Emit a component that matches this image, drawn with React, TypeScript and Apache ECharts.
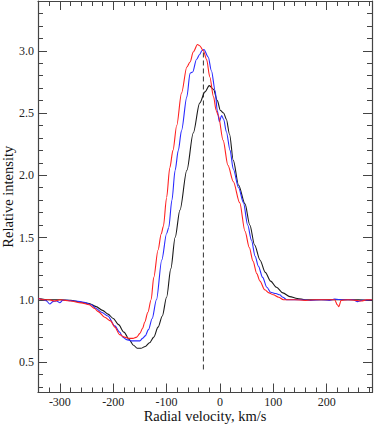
import React, { useEffect, useRef } from "react";
import * as echarts from "echarts";

const blackV = [-340,-320,-300,-280,-260,-245,-232,-220,-210,-200,-190,-180,-170,-162,-155,-148,-140,-132,-124,-116,-108,-100,-92,-84,-75,-62,-50,-38,-28,-20,-12,-5,1,7,12,18,25,35,47,56,65,75,85,95,106,118,131,145,160,180,220,260,285];
const blackI = [1.01,1.0,1.0,0.995,0.98,0.97,0.945,0.915,0.885,0.85,0.80,0.74,0.68,0.635,0.61,0.61,0.625,0.655,0.70,0.78,0.87,1.02,1.25,1.5,1.72,2.04,2.34,2.58,2.67,2.72,2.69,2.60,2.52,2.50,2.45,2.33,2.12,1.92,1.77,1.60,1.44,1.32,1.22,1.15,1.10,1.055,1.025,1.01,1.0,1.0,1.0,1.0,0.995];

const redV = [-340,-330,-320,-310,-300,-290,-280,-260,-245,-235,-228,-216,-205,-197,-188,-179,-170,-163,-156,-150,-145,-141,-135,-129,-124,-116,-110,-106,-100,-94,-88,-81,-72,-62,-56,-50,-42,-38,-31,-25,-19,-12,-7,-3,6,15,25,37,47,55,62,69,75,84,92,100,110,119,140,160,180,200,215,220,223,227,240,255,265,275,285];
const redI = [1.01,1.0,1.0,0.99,1.0,0.995,0.99,0.975,0.96,0.93,0.905,0.86,0.83,0.78,0.72,0.70,0.69,0.69,0.70,0.73,0.77,0.82,0.90,1.0,1.18,1.40,1.53,1.59,1.82,2.06,2.2,2.4,2.66,2.87,2.91,2.99,3.05,3.04,3.0,2.93,2.79,2.63,2.52,2.48,2.28,2.08,1.95,1.78,1.55,1.42,1.31,1.21,1.15,1.08,1.055,1.04,1.02,1.0,1.0,0.995,1.0,1.0,1.0,0.96,0.945,0.995,1.0,0.995,0.99,1.0,1.0];

const blueV = [-340,-330,-325,-319,-313,-306,-300,-295,-285,-270,-255,-241,-232,-222,-210,-197,-188,-182,-175,-166,-158,-150,-145,-140,-134,-127,-119,-109,-100,-96,-90,-84,-78,-72,-62,-56,-51,-44,-38,-34,-30,-22,-16,-9,-5,-1,3,7,12,19,25,35,44,52,59,66,72,80,88,95,105,112,118,125,150,170,190,205,215,230,250,258,265,285];
const blueI = [1.01,1.0,0.99,0.966,0.985,0.99,0.976,0.995,0.995,0.99,0.98,0.96,0.93,0.90,0.87,0.79,0.74,0.70,0.68,0.67,0.67,0.67,0.69,0.71,0.76,0.85,1.0,1.32,1.53,1.58,1.8,2.04,2.2,2.36,2.63,2.82,2.83,2.93,2.97,3.0,3.01,2.95,2.84,2.68,2.52,2.43,2.48,2.45,2.35,2.2,2.05,1.9,1.78,1.6,1.48,1.35,1.27,1.18,1.1,1.06,1.05,1.04,1.02,1.0,1.0,0.995,1.0,0.995,1.005,1.0,1.0,0.985,0.995,1.0];

const markerV = [-31, -31];
const markerI = [0.44, 3.0];

const xMajor = [-300, -200, -100, 0, 100, 200];
const xMinor = [-340,-320,-300,-280,-260,-240,-220,-200,-180,-160,-140,-120,-100,-80,-60,-40,-20,0,20,40,60,80,100,120,140,160,180,200,220,240,260,280];
const yMajor = [0.5, 1.0, 1.5, 2.0, 2.5, 3.0];
const yMinor = [0.3,0.4,0.5,0.6,0.7,0.8,0.9,1.0,1.1,1.2,1.3,1.4,1.5,1.6,1.7,1.8,1.9,2.0,2.1,2.2,2.3,2.4,2.5,2.6,2.7,2.8,2.9,3.0,3.1,3.2,3.3];

const X_MIN = -341;
const X_MAX = 285;
const Y_MIN = 0.255;
const Y_MAX = 3.4;

const FONT = "Liberation Serif";
const AXIS_COLOR = "#444";

function zip(a: number[], b: number[]) {
  return a.map((v, i) => [v, b[i]]);
}

export default function App() {
  const ref = useRef<HTMLDivElement>(null);
  useEffect(() => {
    if (!ref.current) return;
    const chart = echarts.init(ref.current, undefined, { renderer: "svg" });
    const xBase = (position: string, ticks: number[], len: number, labels: boolean, line: boolean, name?: string) => ({
      type: "value",
      position,
      min: X_MIN,
      max: X_MAX,
      name: name || "",
      nameLocation: "middle",
      nameGap: 15.5,
      nameMoveOverlap: false,
      nameTextStyle: { fontFamily: FONT, fontSize: 14.5, color: "#111", verticalAlign: "top" },
      axisLine: { show: line, onZero: false, lineStyle: { color: AXIS_COLOR, width: 1.2 } },
      axisTick: { show: true, inside: true, length: len, customValues: ticks, lineStyle: { color: AXIS_COLOR, width: 1 } },
      axisLabel: labels
        ? { show: true, customValues: xMajor, fontFamily: FONT, fontSize: 12, color: "#222", margin: 3.5, formatter: (v: number) => String(v) }
        : { show: false },
      splitLine: { show: false },
    });
    const yBase = (position: string, ticks: number[], len: number, labels: boolean, line: boolean, name?: string) => ({
      type: "value",
      position,
      min: Y_MIN,
      max: Y_MAX,
      name: name || "",
      nameLocation: "middle",
      nameGap: 23,
      nameMoveOverlap: false,
      nameTextStyle: { fontFamily: FONT, fontSize: 14.5, color: "#111" },
      axisLine: { show: line, onZero: false, lineStyle: { color: AXIS_COLOR, width: 1.2 } },
      axisTick: { show: true, inside: true, length: len, customValues: ticks, lineStyle: { color: AXIS_COLOR, width: 1 } },
      axisLabel: labels
        ? { show: true, customValues: yMajor, fontFamily: FONT, fontSize: 12, color: "#222", margin: 4, formatter: (v: number) => v.toFixed(1) }
        : { show: false },
      splitLine: { show: false },
    });
    const lineSeries = (data: number[][], color: string, z: number) => ({
      type: "line",
      data,
      xAxisIndex: 0,
      yAxisIndex: 0,
      showSymbol: false,
      symbol: "none",
      smooth: 0.3,
      smoothMonotone: "x",
      z,
      lineStyle: { color, width: 1.1 },
    });
    chart.setOption({
      animation: false,
      backgroundColor: "#fff",
      textStyle: { fontFamily: FONT },
      grid: { left: 38, right: 2, top: 1, bottom: 31.5, containLabel: false, outerBoundsMode: "none" },
      xAxis: [
        xBase("bottom", xMajor, 9, true, true, "Radial velocity, km/s"),
        xBase("bottom", xMinor, 5, false, false),
        xBase("top", xMajor, 9, false, true),
        xBase("top", xMinor, 5, false, false),
      ],
      yAxis: [
        yBase("left", yMajor, 9, true, true, "Relative intensity"),
        yBase("left", yMinor, 5, false, false),
        yBase("right", yMajor, 9, false, true),
        yBase("right", yMinor, 5, false, false),
      ],
      series: [
        lineSeries(zip(blackV, blackI), "#1a1a1a", 2),
        lineSeries(zip(blueV, blueI), "#2a2aff", 3),
        lineSeries(zip(redV, redI), "#ff2020", 4),
        {
          type: "line",
          data: zip(markerV, markerI),
          xAxisIndex: 0,
          yAxisIndex: 0,
          showSymbol: false,
          symbol: "none",
          z: 1,
          lineStyle: { color: "#333", width: 1, type: [5, 3] },
        },
      ],
    });
    return () => chart.dispose();
  }, []);
  return <div ref={ref} style={{ position: "fixed", left: 0, top: 0, width: 374, height: 424 }} />;
}
